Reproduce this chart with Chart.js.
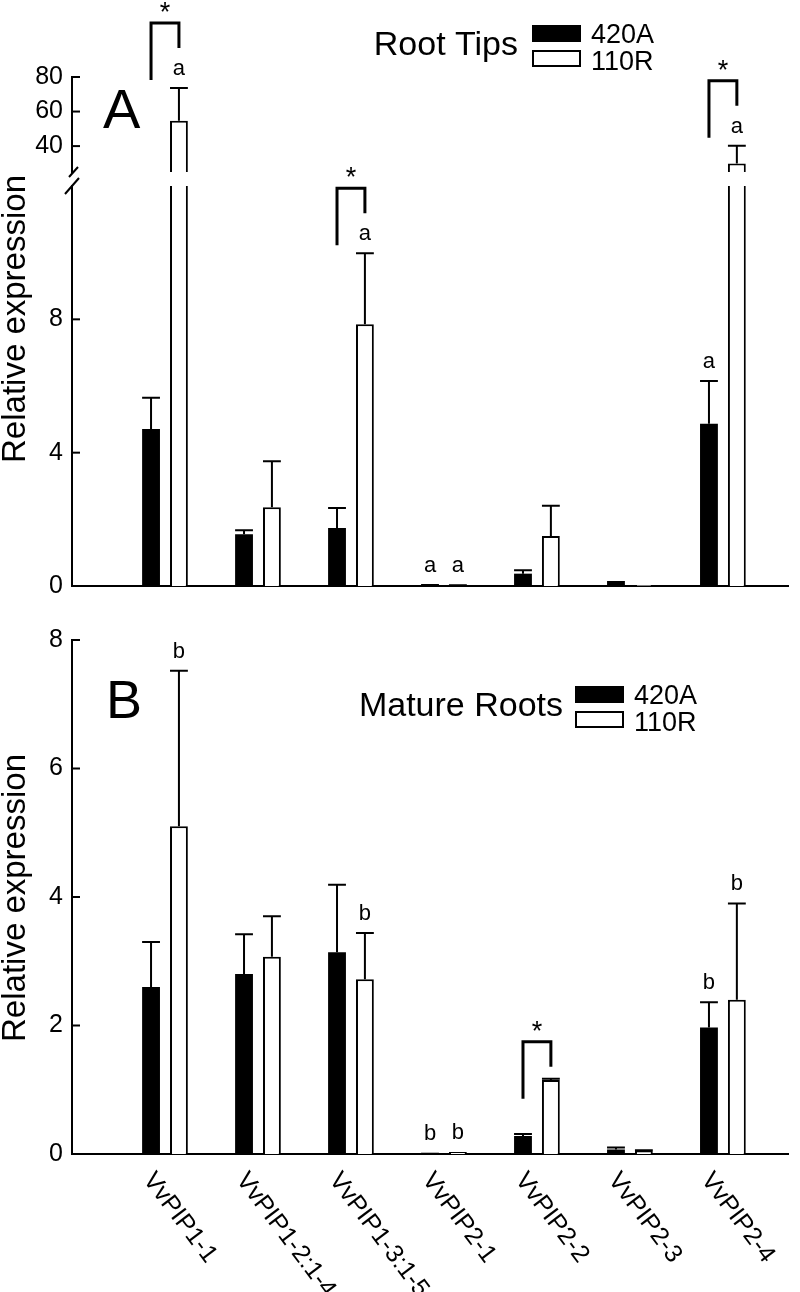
<!DOCTYPE html>
<html>
<head>
<meta charset="utf-8">
<script src="https://cdn.jsdelivr.net/npm/chart.js@4.4.0/dist/chart.umd.min.js"></script>
<style>
  body { margin: 0; background: #fff; }
  #wrap { position: relative; width: 800px; height: 1292px; overflow: hidden; }
  canvas { position: absolute; left: 0; }
</style>
</head>
<body>
<div id="wrap">
  <canvas id="tipsUpper" width="800" height="200" style="top:0"></canvas>
  <canvas id="tipsLower" width="800" height="610" style="top:0"></canvas>
  <canvas id="mature" width="800" height="692" style="top:600px"></canvas>
</div>
<script>
// genes on the x axis
const categories = ['VvPIP1-1', 'VvPIP1-2:1-4', 'VvPIP1-3:1-5', 'VvPIP2-1', 'VvPIP2-2', 'VvPIP2-3', 'VvPIP2-4'];

// Panel A - root tips (mean and SE)
const tips420A    = [4.71, 1.55, 1.74, 0.02, 0.37, 0.15, 4.87];
const tips420AErr = [0.94, 0.12, 0.60, 0.01, 0.10, 0.00, 1.28];
const tips110R    = [54.6, 2.36, 7.85, 0.01, 1.50, 0.03, 29.9];
const tips110RErr = [19.0, 1.38, 2.13, 0.01, 0.91, 0.00, 10.3];
const tipsLetters420A = ['', '', '', 'a', '', '', 'a'];
const tipsLetters110R = ['a', '', 'a', 'a', '', '', 'a'];
const tipsSignificant = [true, false, true, false, false, false, true];

// Panel B - mature roots (mean and SE)
const mature420A    = [2.60, 2.80, 3.14, 0.02, 0.28, 0.07, 1.97];
const mature420AErr = [0.70, 0.62, 1.05, 0.00, 0.03, 0.03, 0.39];
const mature110R    = [5.10, 3.07, 2.72, 0.03, 1.15, 0.05, 2.40];
const mature110RErr = [2.42, 0.63, 0.72, 0.00, 0.02, 0.01, 1.50];
const matureLetters420A = ['', '', '', 'b', '', '', 'b'];
const matureLetters110R = ['b', '', 'b', 'b', '', '', 'b'];
const matureSignificant = [false, false, false, false, true, false, false];

// tick labels
const tipsUpperLabels = [40, 60, 80];
const tipsLowerLabels = [0, 4, 8];
const matureLabels = [0, 2, 4, 6, 8];

const FONT = '"Liberation Sans", Arial, sans-serif';

// error bars, letters, significance brackets, inward ticks, extra text
const extrasPlugin = {
  id: 'extras',
  afterDatasetsDraw(chart, args, o) {
    const ctx = chart.ctx;
    const ys = chart.scales.y;
    const inRange = v => v >= ys.min && v <= ys.max;
    const bars = [chart.getDatasetMeta(0).data, chart.getDatasetMeta(1).data];
    const series = [[o.v420, o.e420, o.l420], [o.v110, o.e110, o.l110]];
    ctx.save();
    ctx.strokeStyle = '#000';
    ctx.fillStyle = '#000';
    ctx.lineCap = 'butt';
    ctx.lineJoin = 'miter';

    series.forEach(([vals, errs, lets], k) => {
      bars[k].forEach((bar, i) => {
        const top = vals[i] + errs[i];
        if (errs[i] > 0 && inRange(vals[i])) {
          const y0 = ys.getPixelForValue(vals[i]);
          const y1 = ys.getPixelForValue(top);
          const h = bar.width / 2;
          ctx.lineWidth = 2;
          ctx.beginPath();
          ctx.moveTo(bar.x, y0);
          ctx.lineTo(bar.x, y1);
          ctx.moveTo(bar.x - h, y1);
          ctx.lineTo(bar.x + h, y1);
          ctx.stroke();
        }
        if (lets[i] && inRange(top)) {
          ctx.font = '22px ' + FONT;
          ctx.textAlign = 'center';
          ctx.textBaseline = 'alphabetic';
          ctx.fillText(lets[i], bar.x, ys.getPixelForValue(top) - 13);
        }
      });
    });

    o.sig.forEach((s, i) => {
      const top = o.v110[i] + o.e110[i];
      if (!s || !inRange(top)) return;
      const xl = bars[0][i].x, xr = bars[1][i].x;
      const yr = ys.getPixelForValue(top) - (o.l110[i] ? 40 : 12);
      const yt = yr - 25, yl = yt + 57;
      ctx.lineWidth = 3;
      ctx.beginPath();
      ctx.moveTo(xl, yl);
      ctx.lineTo(xl, yt);
      ctx.lineTo(xr, yt);
      ctx.lineTo(xr, yr);
      ctx.stroke();
      ctx.font = '27px ' + FONT;
      ctx.textAlign = 'center';
      ctx.textBaseline = 'alphabetic';
      ctx.fillText('*', (xl + xr) / 2, yt - 2);
    });

    // ticks point into the plot
    const xL = chart.chartArea.left;
    ctx.lineWidth = 2;
    ys.ticks.forEach(t => {
      const y = ys.getPixelForValue(t.value);
      const major = o.labels.includes(t.value);
      ctx.beginPath();
      ctx.moveTo(xL, y);
      ctx.lineTo(xL + (major ? 8 : 5), y);
      ctx.stroke();
    });

    if (o.draw) o.draw(ctx, chart);
    ctx.restore();
  }
};

function legend(ctx, title, titleRight, boxX, y1, y2) {
  ctx.font = '34px ' + FONT;
  ctx.textAlign = 'right';
  ctx.textBaseline = 'alphabetic';
  ctx.fillText(title, titleRight, y2 - 13);
  ctx.fillRect(boxX, y1 - 17, 49, 17);
  ctx.lineWidth = 2;
  ctx.strokeRect(boxX + 1, y2 - 17, 47, 15);
  ctx.font = '27px ' + FONT;
  ctx.textAlign = 'left';
  ctx.fillText('420A', boxX + 59, y1 + 1);
  ctx.fillText('110R', boxX + 59, y2 + 2);
}

function yTitle(ctx, cy) {
  ctx.save();
  ctx.font = '33px ' + FONT;
  ctx.textAlign = 'center';
  ctx.textBaseline = 'alphabetic';
  ctx.translate(25, cy);
  ctx.rotate(-Math.PI / 2);
  ctx.fillText('Relative expression', 0, 0);
  ctx.restore();
}

function makeChart(id, cfg) {
  return new Chart(document.getElementById(id), {
    type: 'bar',
    data: {
      datasets: [
        {
          label: '420A',
          data: cfg.v420.map((v, i) => ({ x: i, y: v })),
          backgroundColor: '#000',
          borderColor: '#000',
          borderWidth: 0,
          categoryPercentage: 0.6,
          barPercentage: 0.64,
          clip: 0
        },
        {
          label: '110R',
          data: cfg.v110.map((v, i) => ({ x: i, y: v })),
          backgroundColor: '#fff',
          borderColor: '#000',
          borderWidth: 2,
          borderSkipped: 'start',
          categoryPercentage: 0.6,
          barPercentage: 0.64,
          clip: 0
        }
      ]
    },
    options: {
      responsive: false,
      animation: false,
      events: [],
      layout: { autoPadding: false, padding: { left: 0, right: 12, top: cfg.padTop, bottom: cfg.padBottom } },
      plugins: { legend: { display: false }, tooltip: { enabled: false }, extras: cfg },
      scales: {
        x: {
          type: 'linear',
          bounds: 'data',
          offset: false,
          min: -1,
          max: 6.7,
          grid: { display: false, drawTicks: false, offset: false },
          border: { display: cfg.xAxis, width: 2, color: '#000' },
          ticks: { display: false, includeBounds: false },
          afterBuildTicks: s => { s.ticks = categories.map((c, i) => ({ value: i })); },
          afterFit: s => { s.height = 0; }
        },
        y: {
          bounds: 'data',
          min: cfg.min,
          max: cfg.max,
          grid: { display: false, drawTicks: false },
          border: { display: true, width: 2, color: '#000' },
          ticks: {
            padding: 9,
            color: '#000',
            font: { family: FONT, size: 25 },
            callback: v => cfg.labels.includes(v) ? String(v) : ''
          },
          afterBuildTicks: s => { s.ticks = cfg.ticks.map(v => ({ value: v })); },
          afterFit: s => { s.width = 72; }
        }
      }
    },
    plugins: [extrasPlugin]
  });
}

// minor ticks on the upper (broken) part of panel A
const upperTicks = [];
for (let v = 80; v > 25; v -= 2.5) upperTicks.push(v);

const tipsBase = {
  v420: tips420A, e420: tips420AErr, l420: tipsLetters420A,
  v110: tips110R, e110: tips110RErr, l110: tipsLetters110R,
  sig: tipsSignificant
};

makeChart('tipsUpper', Object.assign({}, tipsBase, {
  min: 25, max: 80, padTop: 77, padBottom: 28, xAxis: false,
  ticks: upperTicks, labels: tipsUpperLabels
}));

makeChart('tipsLower', Object.assign({}, tipsBase, {
  min: 0, max: 12, padTop: 186, padBottom: 18, xAxis: true,
  ticks: tipsLowerLabels, labels: tipsLowerLabels,
  draw: (ctx) => {
    // axis break marks
    ctx.lineWidth = 2;
    ctx.beginPath();
    ctx.moveTo(69, 177); ctx.lineTo(78, 167);
    ctx.moveTo(65, 194); ctx.lineTo(79, 178);
    ctx.stroke();
    ctx.font = '56px ' + FONT;
    ctx.textAlign = 'left';
    ctx.textBaseline = 'alphabetic';
    ctx.fillText('A', 103, 128);
    yTitle(ctx, 319);
    legend(ctx, 'Root Tips', 518, 532, 42, 68);
  }
}));

makeChart('mature', {
  v420: mature420A, e420: mature420AErr, l420: matureLetters420A,
  v110: mature110R, e110: mature110RErr, l110: matureLetters110R,
  sig: matureSignificant,
  min: 0, max: 8, padTop: 40, padBottom: 138, xAxis: true,
  ticks: matureLabels, labels: matureLabels,
  draw: (ctx, chart) => {
    ctx.font = '54px ' + FONT;
    ctx.textAlign = 'left';
    ctx.textBaseline = 'alphabetic';
    ctx.fillText('B', 106, 118);
    yTitle(ctx, 298);
    legend(ctx, 'Mature Roots', 563, 575, 103, 129);
    // rotated gene names under the axis
    ctx.font = '25px ' + FONT;
    ctx.textAlign = 'left';
    ctx.textBaseline = 'top';
    categories.forEach((c, i) => {
      const px = chart.scales.x.getPixelForValue(i);
      ctx.save();
      ctx.translate(px - 7, 568);
      ctx.rotate(53 * Math.PI / 180);
      ctx.fillText(c, 0, 0);
      ctx.restore();
    });
  }
});
</script>
</body>
</html>
